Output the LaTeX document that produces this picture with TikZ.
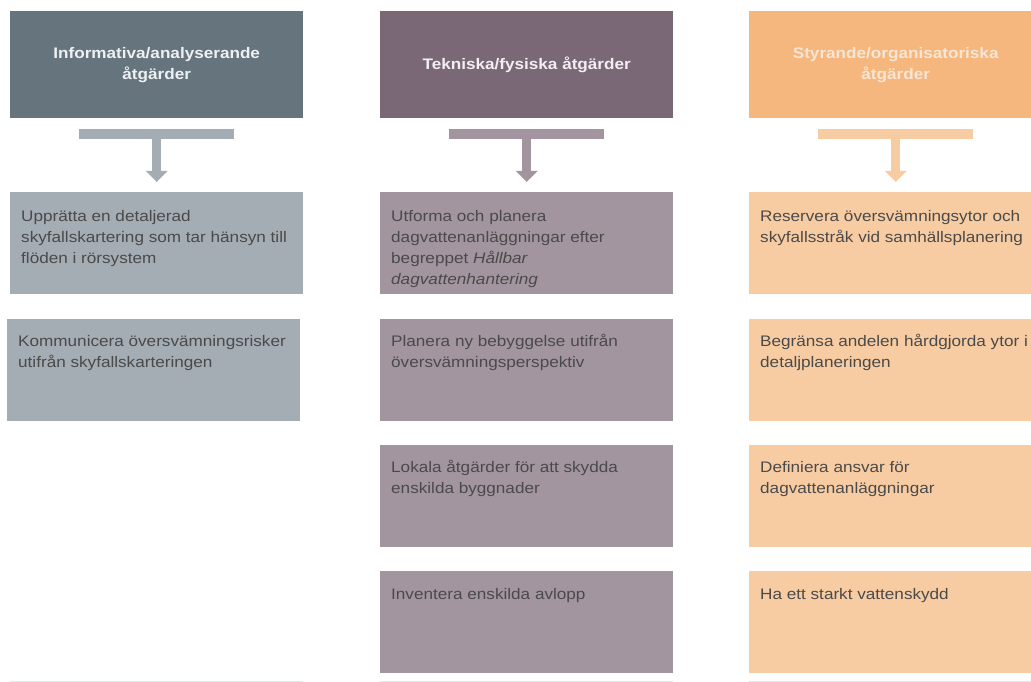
\documentclass[tikz,border=0pt]{standalone}
\usepackage{fontspec}
\setmainfont[FakeStretch=1.12]{Liberation Sans}
\usetikzlibrary{arrows.meta}

\definecolor{hdrA}{HTML}{66747E}
\definecolor{boxA}{HTML}{A4ACB4}
\definecolor{txtA}{HTML}{EEF1F3}
\definecolor{hdrB}{HTML}{7B6876}
\definecolor{boxB}{HTML}{A3959F}
\definecolor{txtB}{HTML}{F3EEF1}
\definecolor{hdrC}{HTML}{F5B77D}
\definecolor{boxC}{HTML}{F8CCA2}
\definecolor{txtC}{HTML}{F7E6D6}
\definecolor{bodytext}{HTML}{4A4A4A}
\definecolor{footline}{HTML}{E6E8EA}

% left-aligned lines whose baseline is that of the first line
\newcommand\lns[1]{\begin{tabular}[t]{@{}l@{}}#1\end{tabular}}

\tikzset{
  hdr/.style={anchor=north west, minimum width=293pt, minimum height=107pt,
    inner sep=0pt, align=center, font=\bfseries\fontsize{15.3}{21}\selectfont},
  cell/.style={anchor=north west, minimum width=293pt, minimum height=102pt, inner sep=0pt},
  bar/.style={anchor=north, minimum width=155pt, minimum height=10pt, inner sep=0pt},
  arr/.style={line width=9pt, -{Triangle[length=11pt,width=21pt]}, shorten >=10pt},
  txt/.style={anchor=base west, inner sep=0pt, text=bodytext,
    font=\fontsize{15.3}{21.3}\selectfont},
  foot/.style={draw=footline, line width=1pt}
}

\begin{document}
\begin{tikzpicture}[x=1pt, y=-1pt]
\useasboundingbox (0,0) rectangle (1031,682);
\clip (0,0) rectangle (1031,682);

% column headers
\node[hdr, fill=hdrA, text=txtA] (h1) at (10,11) {Informativa/analyserande\\åtgärder};
\node[hdr, fill=hdrB, text=txtB] (h2) at (380,11) {Tekniska/fysiska åtgärder};
\node[hdr, fill=hdrC, text=txtC] (h3) at (749,11) {Styrande/organisatoriska\\åtgärder};

% bars under the headers
\node[bar, fill=boxA] (b1) at ([yshift=-10pt]h1.south) {};
\node[bar, fill=boxB] (b2) at ([yshift=-10pt]h2.south) {};
\node[bar, fill=boxC] (b3) at ([yshift=-10pt]h3.south) {};

% column 1
\node[cell, fill=boxA] (a1) at (10,192) {};
\node[cell, fill=boxA] (a2) at (7,318.5) {};
% column 2
\node[cell, fill=boxB] (m1) at (380,192) {};
\node[cell, fill=boxB] (m2) at (380,318.5) {};
\node[cell, fill=boxB] (m3) at (380,444.5) {};
\node[cell, fill=boxB] (m4) at (380,571) {};
% column 3
\node[cell, fill=boxC] (r1) at (749,192) {};
\node[cell, fill=boxC] (r2) at (749,318.5) {};
\node[cell, fill=boxC] (r3) at (749,444.5) {};
\node[cell, fill=boxC] (r4) at (749,571) {};

% arrows
\draw[arr, draw=boxA] (b1.south) -- (a1.north -| b1.south);
\draw[arr, draw=boxB] (b2.south) -- (m1.north -| b2.south);
\draw[arr, draw=boxC] (b3.south) -- (r1.north -| b3.south);

% texts
\node[txt] (ta1) at ([shift={(11pt,-29pt)}]a1.north west)
  {\lns{Upprätta en detaljerad\\skyfallskartering som tar hänsyn till\\flöden i rörsystem}};
\node[txt] (ta2) at ([shift={(11pt,-28pt)}]a2.north west)
  {\lns{Kommunicera översvämningsrisker\\utifrån skyfallskarteringen}};

\node[txt] (tm1) at ([shift={(11pt,-29pt)}]m1.north west)
  {\lns{Utforma och planera\\dagvattenanläggningar efter\\begreppet \textit{Hållbar}\\\textit{dagvattenhantering}}};
\node[txt] (tm2) at ([shift={(11pt,-28pt)}]m2.north west)
  {\lns{Planera ny bebyggelse utifrån\\översvämningsperspektiv}};
\node[txt] (tm3) at ([shift={(11pt,-28pt)}]m3.north west)
  {\lns{Lokala åtgärder för att skydda\\enskilda byggnader}};
\node[txt] (tm4) at ([shift={(11pt,-28pt)}]m4.north west)
  {\lns{Inventera enskilda avlopp}};

\node[txt] (tr1) at ([shift={(11pt,-29pt)}]r1.north west)
  {\lns{Reservera översvämningsytor och\\skyfallsstråk vid samhällsplanering}};
\node[txt] (tr2) at ([shift={(11pt,-28pt)}]r2.north west)
  {\lns{Begränsa andelen hårdgjorda ytor i\\detaljplaneringen}};
\node[txt] (tr3) at ([shift={(11pt,-28pt)}]r3.north west)
  {\lns{Definiera ansvar för\\dagvattenanläggningar}};
\node[txt] (tr4) at ([shift={(11pt,-28pt)}]r4.north west)
  {\lns{Ha ett starkt vattenskydd}};

% thin lines along the bottom
\coordinate (fl) at (0,681.3);
\draw[foot] (h1.west |- fl) -- (h1.east |- fl);
\draw[foot] (h2.west |- fl) -- (h2.east |- fl);
\draw[foot] (h3.west |- fl) -- (h3.east |- fl);
\end{tikzpicture}
\end{document}
